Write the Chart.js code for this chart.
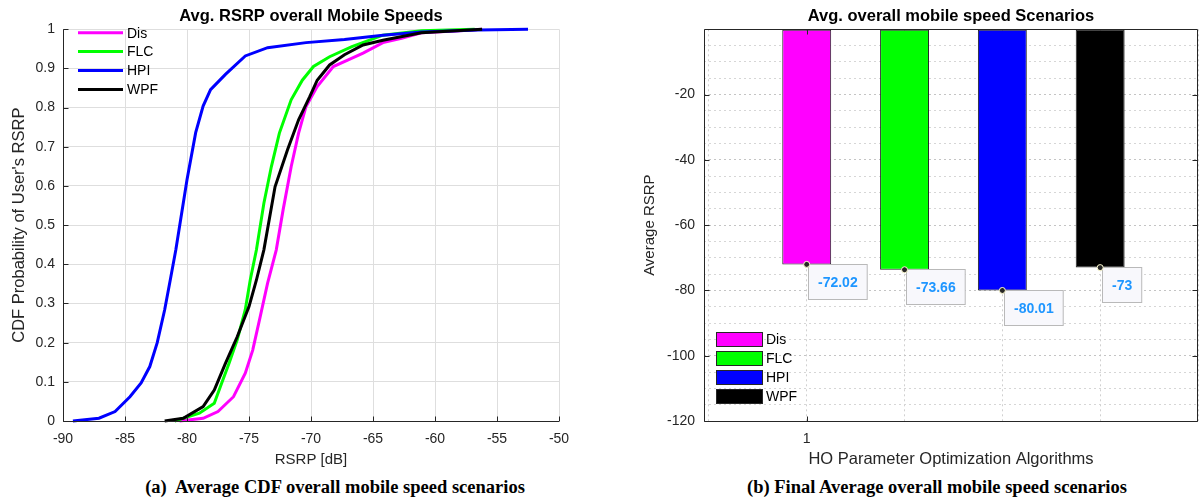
<!DOCTYPE html>
<html>
<head>
<meta charset="utf-8">
<script src="https://cdn.jsdelivr.net/npm/chart.js@4.4.1/dist/chart.umd.min.js"></script>
<style>
  body { margin: 0; background: #fff; width: 1199px; height: 499px; position: relative; overflow: hidden; }
  canvas { position: absolute; top: 0; }
  #cdf { left: 0; }
  #bars { left: 600px; }
  .cap { position: absolute; top: 477px; font: bold 18.5px 'Liberation Serif', 'Times New Roman', serif; color: #000; white-space: pre; transform: translateX(-50%); line-height: 20px; }
</style>
</head>
<body>
<canvas id="cdf" width="600" height="475"></canvas>
<canvas id="bars" width="608" height="475"></canvas>
<div class="cap" style="left:335px">(a)  Average CDF overall mobile speed scenarios</div>
<div class="cap" style="left:937px">(b) Final Average overall mobile speed scenarios</div>
<script>
const names = ['Dis', 'FLC', 'HPI', 'WPF']
const colors = ['#ff00ff', '#00ff00', '#0000ff', '#000000']

// CDF curves (RSRP in dB, CDF level)
const disRsrp = [-80.6, -78.7, -77.5, -76.25, -75.3, -74.7, -74.1, -73.5, -72.8, -72.25, -71.6, -71.0, -70.4, -69.5, -68.2, -67.0, -65.8, -64.2, -62.7, -61.1, -58.0, -56.2]
const disCdf = [0, 0.007, 0.024, 0.062, 0.122, 0.181, 0.266, 0.352, 0.437, 0.539, 0.649, 0.735, 0.803, 0.854, 0.905, 0.922, 0.939, 0.966, 0.977, 0.991, 0.996, 1]

const flcRsrp = [-81.0, -79.0, -77.8, -77.2, -76.6, -75.95, -75.3, -74.9, -74.4, -73.8, -73.2, -72.55, -71.6, -70.7, -69.8, -68.5, -66.7, -64.2, -61.1, -56.8]
const flcCdf = [0, 0.02, 0.045, 0.097, 0.148, 0.207, 0.284, 0.36, 0.437, 0.556, 0.649, 0.735, 0.82, 0.87, 0.905, 0.93, 0.956, 0.985, 0.996, 1]

const hpiRsrp = [-89.2, -87.1, -85.8, -84.6, -83.7, -83.0, -82.4, -81.8, -81.35, -80.9, -80.0, -79.3, -78.7, -78.1, -76.9, -75.3, -73.5, -70.4, -67.3, -64.2, -61.1, -56.5, -52.5]
const hpiCdf = [0, 0.007, 0.024, 0.062, 0.097, 0.139, 0.2, 0.284, 0.36, 0.437, 0.616, 0.736, 0.804, 0.846, 0.885, 0.932, 0.953, 0.966, 0.974, 0.985, 0.993, 0.998, 1]

const wpfRsrp = [-81.8, -80.3, -78.7, -77.8, -76.9, -75.95, -75.0, -74.4, -73.8, -72.9, -71.9, -71.0, -70.1, -69.5, -68.5, -67.3, -65.8, -64.2, -61.1, -56.2]
const wpfCdf = [0, 0.007, 0.037, 0.079, 0.147, 0.215, 0.292, 0.36, 0.437, 0.598, 0.692, 0.769, 0.828, 0.87, 0.909, 0.935, 0.96, 0.972, 0.991, 1]

// right plot
const barPos = [1, 2, 3, 4]
const avgRsrp = [-72.02, -73.66, -80.01, -73]
const barGridTicks = [0, 1, 2, 3, 4, 5]
const barTickLabels = { 1: '1' }

const axisColor = '#262626'
const fontFamily = '"Liberation Sans", Arial, Helvetica, sans-serif'
Chart.defaults.font.family = fontFamily
Chart.defaults.color = axisColor

const toPoints = (xs, ys) => xs.map((x, i) => ({ x: x, y: ys[i] }))
const cdfSets = [toPoints(disRsrp, disCdf), toPoints(flcRsrp, flcCdf), toPoints(hpiRsrp, hpiCdf), toPoints(wpfRsrp, wpfCdf)]

// matlab style axes: lines + inward ticks
const cdfFrame = {
  id: 'cdfFrame',
  afterDatasetsDraw(chart) {
    const { ctx, chartArea: a, scales: { x, y } } = chart
    const L = Math.round(a.left) + 0.5
    const B = Math.round(a.bottom) + 0.5
    ctx.save()
    ctx.strokeStyle = axisColor
    ctx.lineWidth = 1
    ctx.beginPath()
    ctx.moveTo(L, a.top)
    ctx.lineTo(L, B)
    ctx.lineTo(a.right, B)
    x.ticks.forEach(t => {
      const px = Math.round(x.getPixelForValue(t.value)) + 0.5
      ctx.moveTo(px, B)
      ctx.lineTo(px, B - 5)
    })
    y.ticks.forEach(t => {
      const py = Math.round(y.getPixelForValue(t.value)) + 0.5
      ctx.moveTo(L, py)
      ctx.lineTo(L + 5, py)
    })
    ctx.stroke()
    ctx.restore()
  }
}

const lineKey = {
  id: 'lineKey',
  afterDraw(chart) {
    const { ctx, chartArea: a } = chart
    ctx.save()
    ctx.font = '14px ' + fontFamily
    ctx.textBaseline = 'middle'
    chart.data.datasets.forEach((ds, i) => {
      const yy = a.top + 3.4 + i * 18.9
      ctx.strokeStyle = ds.borderColor
      ctx.lineWidth = 3
      ctx.beginPath()
      ctx.moveTo(a.left + 15, yy)
      ctx.lineTo(a.left + 60, yy)
      ctx.stroke()
      ctx.fillStyle = '#000'
      ctx.fillText(ds.label, a.left + 64, yy + 1)
    })
    ctx.restore()
  }
}

new Chart(document.getElementById('cdf'), {
  type: 'line',
  data: {
    datasets: names.map((n, i) => ({
      label: n,
      data: cdfSets[i],
      borderColor: colors[i],
      borderWidth: 3,
      pointRadius: 0,
      tension: 0,
      fill: false,
      clip: false,
      order: 3 - i
    }))
  },
  options: {
    responsive: false,
    animation: false,
    devicePixelRatio: 1,
    layout: { padding: { right: 41 } },
    plugins: {
      legend: { display: false },
      tooltip: { enabled: false },
      title: {
        display: true,
        fullSize: false,
        text: 'Avg. RSRP overall Mobile Speeds',
        color: '#000',
        font: { size: 16.5, weight: 'bold' },
        padding: { top: 6.5, bottom: 3 }
      }
    },
    scales: {
      x: {
        type: 'linear',
        min: -90,
        max: -50,
        ticks: { stepSize: 5, padding: 10, maxRotation: 0, font: { size: 14 } },
        grid: { color: '#dedede', drawTicks: false },
        border: { display: false },
        title: { display: true, text: 'RSRP [dB]', font: { size: 15 }, padding: { top: 0, bottom: 6 } },
        afterFit: s => { s.height = 54 }
      },
      y: {
        min: 0,
        max: 1,
        ticks: { stepSize: 0.1, padding: 8, font: { size: 14 }, callback: v => +v.toFixed(1) },
        grid: { color: '#dedede', drawTicks: false },
        border: { display: false },
        title: { display: true, text: "CDF Probability of User's RSRP", font: { size: 16.5 }, padding: { top: 10, bottom: 0 } },
        afterFit: s => { s.width = 63 }
      }
    }
  },
  plugins: [cdfFrame, lineKey]
})

const barFrame = {
  id: 'barFrame',
  afterDatasetsDraw(chart) {
    const { ctx, chartArea: a, scales: { x, y } } = chart
    const L = Math.round(a.left) + 0.5
    const R = Math.round(a.right) - 0.5
    const T = Math.round(a.top) + 0.5
    const B = Math.round(a.bottom) + 0.5
    ctx.save()
    ctx.strokeStyle = axisColor
    ctx.lineWidth = 1
    ctx.beginPath()
    ctx.rect(L, T, R - L, B - T)
    y.ticks.forEach(t => {
      if (t.value % 20 !== 0 || t.value === 0) return
      const py = Math.round(y.getPixelForValue(t.value)) + 0.5
      ctx.moveTo(L, py); ctx.lineTo(L + 5, py)
      ctx.moveTo(R, py); ctx.lineTo(R - 5, py)
    })
    x.ticks.forEach(t => {
      if (!barTickLabels[t.value]) return
      const px = Math.round(x.getPixelForValue(t.value)) + 0.5
      ctx.moveTo(px, B); ctx.lineTo(px, B - 5)
      ctx.moveTo(px, T); ctx.lineTo(px, T + 5)
    })
    ctx.stroke()
    ctx.restore()
  }
}

const tipLabels = {
  id: 'tipLabels',
  afterDatasetsDraw(chart) {
    const { ctx } = chart
    ctx.save()
    ctx.font = 'bold 14px ' + fontFamily
    chart.data.datasets.forEach((ds, i) => {
      const bar = chart.getDatasetMeta(i).data[0]
      const px = bar.x
      const py = bar.y
      const txt = String(ds.data[0].y)
      const w = ctx.measureText(txt).width + 19
      const bx = Math.round(px + 1.5) + 0.5
      const by = Math.round(py - 0.5) + 0.5
      ctx.fillStyle = '#f8f8fc'
      ctx.fillRect(bx, by, w, 35)
      ctx.strokeStyle = '#b9b9b9'
      ctx.lineWidth = 1
      ctx.strokeRect(bx, by, w, 35)
      ctx.fillStyle = '#1e96ff'
      ctx.textAlign = 'center'
      ctx.textBaseline = 'middle'
      ctx.fillText(txt, bx + w / 2, by + 18.5)
      ctx.beginPath()
      ctx.arc(px, py, 3, 0, Math.PI * 2)
      ctx.fillStyle = '#262626'
      ctx.fill()
      ctx.strokeStyle = '#fffbd0'
      ctx.stroke()
    })
    ctx.restore()
  }
}

const boxKey = {
  id: 'boxKey',
  afterDraw(chart) {
    const { ctx, chartArea: a } = chart
    const n = chart.data.datasets.length
    ctx.save()
    ctx.font = '14px ' + fontFamily
    ctx.textBaseline = 'middle'
    chart.data.datasets.forEach((ds, i) => {
      const yy = a.bottom - 25 - (n - 1 - i) * 19
      ctx.fillStyle = ds.backgroundColor
      ctx.fillRect(a.left + 12, yy - 7, 46, 14)
      ctx.strokeStyle = axisColor
      ctx.lineWidth = 1
      ctx.strokeRect(Math.round(a.left + 12) + 0.5, Math.round(yy - 7) + 0.5, 46, 14)
      ctx.fillStyle = '#000'
      ctx.fillText(ds.label, a.left + 62, yy + 1)
    })
    ctx.restore()
  }
}

new Chart(document.getElementById('bars'), {
  type: 'bar',
  data: {
    datasets: names.map((n, i) => ({
      label: n,
      data: [{ x: barPos[i], y: avgRsrp[i] }],
      backgroundColor: colors[i],
      borderColor: axisColor,
      borderWidth: 1,
      borderSkipped: false,
      barPercentage: 0.5,
      categoryPercentage: 1,
      grouped: false
    }))
  },
  options: {
    responsive: false,
    animation: false,
    devicePixelRatio: 1,
    layout: { padding: 0 },
    plugins: {
      legend: { display: false },
      tooltip: { enabled: false },
      title: {
        display: true,
        fullSize: false,
        text: 'Avg. overall mobile speed Scenarios',
        color: '#000',
        font: { size: 16.5, weight: 'bold' },
        padding: { top: 6.5, bottom: 3 }
      }
    },
    scales: {
      x: {
        type: 'linear',
        min: -0.05,
        max: 5,
        offset: false,
        afterBuildTicks: s => { s.ticks = barGridTicks.map(v => ({ value: v })) },
        ticks: { autoSkip: false, maxRotation: 0, padding: 10, font: { size: 14 }, callback: v => barTickLabels[v] || '' },
        grid: { offset: false, color: '#d0d0d0', drawTicks: false },
        border: { display: false, dash: [2, 3] },
        title: { display: true, text: 'HO Parameter Optimization Algorithms', font: { size: 16.5 }, padding: { top: 0, bottom: 6 } },
        afterFit: s => { s.height = 54 }
      },
      y: {
        min: -120,
        max: 0,
        ticks: { stepSize: 5, autoSkip: false, padding: 9, font: { size: 14 }, callback: v => (v % 20 === 0 && v !== 0) ? v : '' },
        grid: { color: c => (c.tick && c.tick.value % 20 === 0) ? '#c4c4c4' : '#d6d6d6', drawTicks: false },
        border: { display: false, dash: [2, 3] },
        title: { display: true, text: 'Average RSRP', font: { size: 15 }, padding: { top: 41, bottom: 0 } },
        afterFit: s => { s.width = 104 }
      }
    }
  },
  plugins: [barFrame, tipLabels, boxKey]
})
</script>
</body>
</html>
